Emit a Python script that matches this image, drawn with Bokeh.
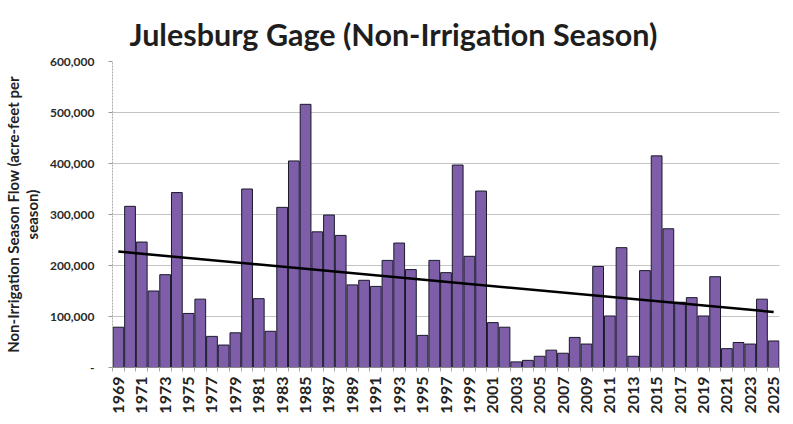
import numpy as np
from bokeh.plotting import figure
from bokeh.models import ColumnDataSource, FixedTicker, Range1d, CustomJSTickFormatter
from bokeh.embed import file_html
from bokeh.resources import INLINE

years = list(range(1969, 2026))
flow = [79000, 316000, 246000, 150000, 182000, 343000, 106000, 134000, 61000, 44000,
        68000, 350000, 135000, 71000, 314000, 405000, 516000, 266000, 299000, 259000,
        162000, 171000, 159000, 210000, 244000, 192000, 63000, 210000, 186000, 397000,
        218000, 346000, 88000, 79000, 11000, 14000, 22000, 34000, 28000, 59000,
        46000, 198000, 101000, 235000, 22000, 190000, 415000, 272000, 128000, 137000,
        101000, 178000, 37000, 49000, 46000, 134000, 52000]
y_ticks = [0, 100000, 200000, 300000, 400000, 500000, 600000]
x_label_years = list(range(1969, 2026, 2))

title_text = "Julesburg Gage (Non-Irrigation Season)"
y_label = "Non-Irrigation Season Flow (acre-feet per\nseason)"

p = figure(width=785, height=416, output_backend="svg", toolbar_location=None,
           x_range=Range1d(years[0] - 0.5, years[-1] + 0.5),
           y_range=Range1d(0, 600000),
           min_border_left=112, min_border_right=6, min_border_top=61, min_border_bottom=46)

p.title.text = title_text
p.title.text_font = "Lato"
p.title.text_font_size = "30.5px"
p.title.text_font_style = "bold"
p.title.text_color = "#1e1e1e"
p.title.align = "left"
p.title.offset = 17
p.title.standoff = 20

src = ColumnDataSource(dict(x=years, top=flow))
p.vbar(x="x", top="top", width=0.92, source=src, fill_color="#7E5DA9",
       line_color="#1a1a2a", line_width=1)

coef = np.polyfit(years, flow, 1)
tx = [years[0], years[-1]]
ty = [coef[0] * x + coef[1] for x in tx]
p.line(tx, ty, line_color="black", line_width=2.5)

p.xgrid.grid_line_color = None
p.ygrid.grid_line_color = "#c4c4c4"
p.ygrid.grid_line_width = 1
p.outline_line_color = None

p.yaxis.ticker = FixedTicker(ticks=y_ticks)
p.yaxis.formatter = CustomJSTickFormatter(code="return tick == 0 ? '-' : tick.toLocaleString('en-US');")
p.yaxis.major_label_text_font = "Lato"
p.yaxis.major_label_text_font_style = "bold"
p.yaxis.major_label_text_font_size = "12px"
p.yaxis.major_label_text_color = "#2a2a2a"
p.yaxis.major_label_standoff = 14
p.yaxis.axis_line_color = "#aaaaaa"
p.yaxis.axis_line_dash = "2 1"
p.yaxis.major_tick_line_color = "#999999"
p.yaxis.major_tick_out = 4
p.yaxis.major_tick_in = 0
p.yaxis.minor_tick_line_color = None
p.yaxis.axis_label = y_label
p.yaxis.axis_label_text_font = "Lato"
p.yaxis.axis_label_text_font_style = "bold"
p.yaxis.axis_label_text_font_size = "15px"
p.yaxis.axis_label_text_line_height = 1.05
p.yaxis.axis_label_text_color = "#222222"
p.yaxis.axis_label_standoff = 6

p.xaxis.ticker = FixedTicker(ticks=x_label_years,
                             minor_ticks=[y - 0.5 for y in years] + [years[-1] + 0.5])
p.xaxis.major_label_orientation = np.pi / 2
p.xaxis.major_label_text_font = "Lato"
p.xaxis.major_label_text_font_style = "bold"
p.xaxis.major_label_text_font_size = "16px"
p.xaxis.major_label_text_color = "#222222"
p.xaxis.major_label_standoff = 5
p.xaxis.major_tick_line_color = None
p.xaxis.major_tick_out = 0
p.xaxis.major_tick_in = 0
p.xaxis.minor_tick_line_color = "#aaaaaa"
p.xaxis.minor_tick_out = 4
p.xaxis.minor_tick_in = 0
p.xaxis.axis_line_color = "#888888"

open("out.html", "w").write(file_html(p, INLINE))
